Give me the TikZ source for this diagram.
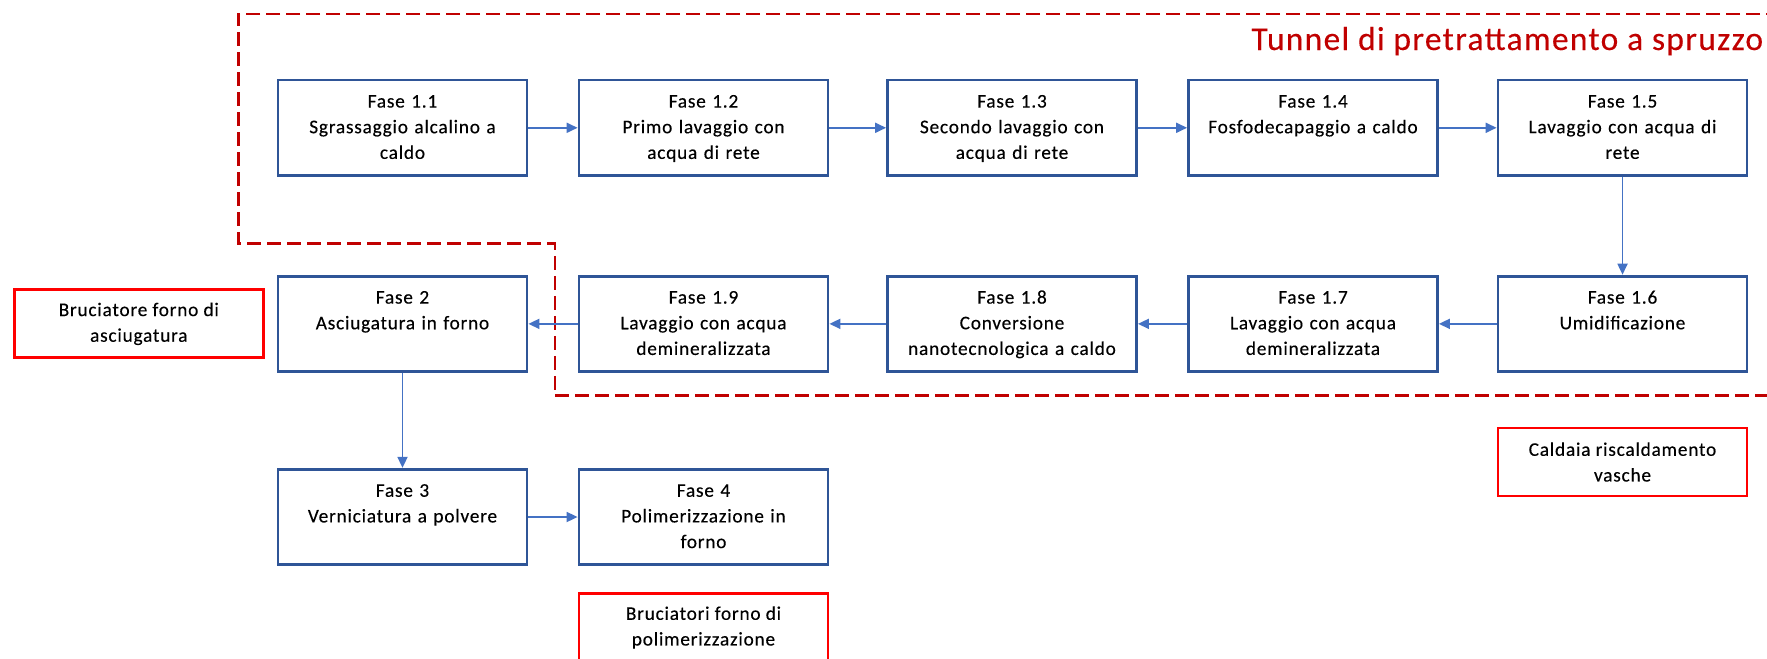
\documentclass[tikz,border=0pt]{standalone}
\usepackage{fontspec}
\setmainfont{Carlito}[LetterSpace=4, FakeBold=0.3]
\definecolor{faseblue}{HTML}{2F5597}
\definecolor{arrowblue}{HTML}{4472C4}
\definecolor{tunnelred}{HTML}{C00000}
\definecolor{burnerred}{HTML}{FF0000}
\usetikzlibrary{arrows.meta, positioning}

\begin{document}
\begin{tikzpicture}[
    fase/.style={rectangle, draw=faseblue, line width=1.6pt,
      minimum width=4.98cm, minimum height=1.91cm, inner sep=0.1cm,
      text width=4.75cm, align=center, text height=0.45cm, text depth=1.26cm,
      font=\fontsize{11}{14.6}\selectfont},
    burner/.style={rectangle, draw=burnerred, line width=1.6pt,
      minimum width=4.98cm, minimum height=1.36cm, align=center,
      font=\fontsize{11}{14.6}\selectfont},
    tunnel/.style={draw=tunnelred, line width=1.4pt, dash pattern=on 0.28cm off 0.12cm},
    arr/.style={-{Triangle[length=2.2mm, width=2mm]}, color=arrowblue, line width=1pt}
  ]
    \useasboundingbox (0,0) rectangle (35.34,-13.16);

    % ── Tunnel boundary
    \draw[tunnel] (35.6,-0.28) -- (4.77,-0.28) -- (4.77,-4.87) -- (11.10,-4.87)
      -- (11.10,-7.91) -- (35.6,-7.91);
    \node[anchor=base east, text=tunnelred, font=\fontsize{19}{23}\selectfont, inner sep=0pt]
      (tunnel) at (35.27,-1.0) {Tunnel di pretrattamento a spruzzo};

    % ── First row
    \node[fase] (f11) at (8.05,-2.556) {Fase 1.1\\Sgrassaggio alcalino a\\caldo};
    \node[fase] (f12) at (14.07,-2.556) {Fase 1.2\\Primo lavaggio con\\acqua di rete};
    \node[fase] (f13) at (20.24,-2.556) {Fase 1.3\\Secondo lavaggio con\\acqua di rete};
    \node[fase] (f14) at (26.26,-2.556) {Fase 1.4\\Fosfodecapaggio a caldo};
    \node[fase] (f15) at (32.45,-2.556) {Fase 1.5\\Lavaggio con acqua di\\rete};

    % ── Second row
    \node[fase] (f2) at (8.05,-6.477) {Fase 2\\Asciugatura in forno};
    \node[fase] (f19) at (14.07,-6.477) {Fase 1.9\\Lavaggio con acqua\\demineralizzata};
    \node[fase] (f18) at (20.24,-6.477) {Fase 1.8\\Conversione\\nanotecnologica a caldo};
    \node[fase] (f17) at (26.26,-6.477) {Fase 1.7\\Lavaggio con acqua\\demineralizzata};
    \node[fase] (f16) at (32.45,-6.477) {Fase 1.6\\Umidificazione};

    % ── Third row
    \node[fase] (f3) at (8.05,-10.34) {Fase 3\\Verniciatura a polvere};
    \node[fase] (f4) at (14.07,-10.34) {Fase 4\\Polimerizzazione in\\forno};

    % ── Burners
    \node[burner] (bdry) at (2.776,-6.477) {Bruciatore forno di\\asciugatura};
    \node[burner] (boil) at (32.45,-9.24) {Caldaia riscaldamento\\vasche};
    \node[burner] (bpol) at (14.07,-12.55) {Bruciatori forno di\\polimerizzazione};

    % ── Arrows
    \draw[arr] (f11) -- (f12);
    \draw[arr] (f12) -- (f13);
    \draw[arr] (f13) -- (f14);
    \draw[arr] (f14) -- (f15);
    \draw[arr] (f15) -- (f16);
    \draw[arr] (f16) -- (f17);
    \draw[arr] (f17) -- (f18);
    \draw[arr] (f18) -- (f19);
    \draw[arr] (f19) -- (f2);
    \draw[arr] (f2) -- (f3);
    \draw[arr] (f3) -- (f4);
  \end{tikzpicture}
\end{document}
